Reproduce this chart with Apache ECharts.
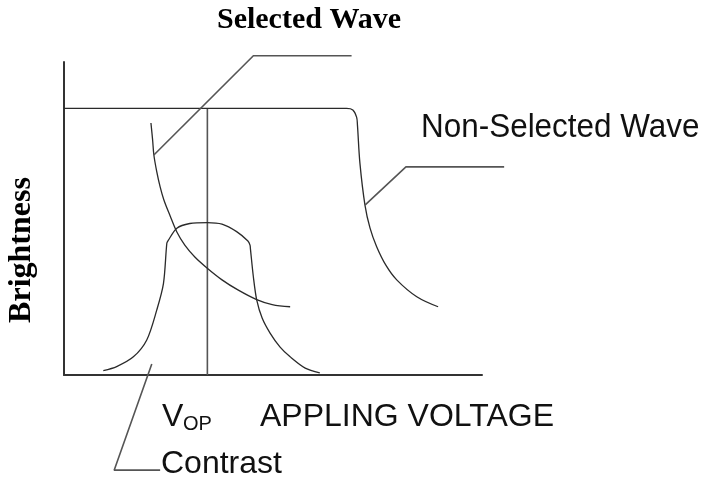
<!DOCTYPE html>
<html>
<head>
<meta charset="utf-8">
<script src="https://cdn.jsdelivr.net/npm/echarts@6/dist/echarts.min.js"></script>
<style>
html,body{margin:0;padding:0;background:#fff;}
#chart{width:705px;height:481px;}
</style>
</head>
<body>
<div id="chart"></div>
<script>
// Axis ranges (arbitrary units: applied voltage vs. brightness)
var xRange = [0, 100];
var yRange = [0, 100];
var xRangeWide = [0, 120]; // same scale, extended to the right for the leader line

// Curves: [voltage, brightness]
var nonSelectedWave = [
  [0,85.2],[67.6,85.2],[69.1,84.7],[70.0,82.4],[70.2,79.9],[70.8,67.6],[72.0,54.3],
  [73.2,47.0],[74.8,41.0],[77.0,35.1],[79.6,30.4],[84.4,25.0],[89.5,21.8]
];
var selectedWave = [
  [20.8,80.5],[21.2,75.1],[21.5,70.3],[22.2,64.9],[23.0,60.1],[23.9,55.9],[25.4,50.8],
  [27.0,45.7],[28.9,41.5],[31.3,37.7],[34.2,34.2],[37.8,30.4],[41.6,27.2],[46.1,24.1],
  [49.8,22.5],[54.1,21.8]
];
var contrastCurve = [
  [9.4,1.4],[12.6,2.7],[16.6,5.8],[19.8,11.2],[22.2,20.8],[23.8,29.3],[24.6,42.1],
  [24.9,42.9],[27.0,46.9],[30.1,48.4],[34.3,48.7],[37.8,48.2],[41.3,45.8],[44.0,42.8],
  [44.5,41.5],[44.6,40.3],[45.3,31.4],[46.1,24.0],[47.4,18.2],[49.3,13.4],[51.7,8.9],
  [54.1,5.8],[57.7,2.2],[61.2,0.7]
];
var vopLine = [[34.3,85.2],[34.3,0]];

// Leader lines to the labels
var selectedLeader = [[21.5,70.3],[45.3,102.0],[68.8,102.0]];
var nonSelectedLeader = [[72.0,54.3],[81.8,66.5],[105.3,66.5]];
var contrastLeader = [[21.0,3.5],[12.0,-30.4],[23.0,-30.4]];

// Texts
var labelSelected = 'Selected Wave';
var labelNonSelected = 'Non-Selected Wave';
var labelYAxis = 'Brightness';
var labelXAxis = 'APPLING VOLTAGE';
var labelV = 'V';
var labelOP = 'OP';
var labelContrast = 'Contrast';

var chart = echarts.init(document.getElementById('chart'), null, {renderer:'canvas'});

function curve(name, data, color, width, smooth, axisIdx) {
  return {
    name: name, type: 'line', data: data, symbol: 'none', smooth: smooth,
    xAxisIndex: axisIdx || 0, yAxisIndex: axisIdx || 0,
    clip: false, silent: true, animation: false,
    lineStyle: {color: color, width: width}
  };
}

var sansFont = '"Liberation Sans", Arial, sans-serif';
var serifFont = '"Liberation Serif", "Times New Roman", serif';

var plotW = 418; // grid width in px for xRange
var wideW = plotW * (xRangeWide[1] - xRangeWide[0]) / (xRange[1] - xRange[0]);

function hiddenAxis(extra) {
  return Object.assign({
    type: 'value', axisLine: {show: false}, axisTick: {show: false},
    axisLabel: {show: false}, splitLine: {show: false}
  }, extra);
}

var option = {
  backgroundColor: '#ffffff',
  animation: false,
  grid: [
    {left: 64, top: 62, width: plotW, height: 313, containLabel: false},
    {left: 64, top: 62, width: wideW, height: 313, containLabel: false}
  ],
  xAxis: [
    {
      type: 'value', min: xRange[0], max: xRange[1], gridIndex: 0,
      axisLine: {show: true, lineStyle: {color: '#333333', width: 2}},
      axisTick: {show: false}, axisLabel: {show: false}, splitLine: {show: false}
    },
    hiddenAxis({min: xRangeWide[0], max: xRangeWide[1], gridIndex: 1})
  ],
  yAxis: [
    {
      type: 'value', min: yRange[0], max: yRange[1], gridIndex: 0,
      axisLine: {show: true, lineStyle: {color: '#333333', width: 2}},
      axisTick: {show: false}, axisLabel: {show: false}, splitLine: {show: false}
    },
    hiddenAxis({min: yRange[0], max: yRange[1], gridIndex: 1})
  ],
  series: [
    curve('Vop', vopLine, '#555555', 1.6, false),
    curve('Non-Selected Wave', nonSelectedWave, '#2a2a2a', 1.3, 0.35),
    curve('Selected Wave', selectedWave, '#2a2a2a', 1.3, 0.35),
    curve('Contrast', contrastCurve, '#2a2a2a', 1.3, 0.3),
    curve('Selected leader', selectedLeader, '#555555', 1.6, false),
    curve('Non-Selected leader', nonSelectedLeader, '#555555', 1.6, false, 1),
    curve('Contrast leader', contrastLeader, '#555555', 1.6, false)
  ],
  graphic: [
    {type:'text', x:309, y:20, style:{text: labelSelected, font:'bold 30px ' + serifFont, fill:'#000', align:'center', verticalAlign:'middle'}},
    {type:'text', x:421, y:128, scaleX: 0.925, style:{text: labelNonSelected, font:'34px ' + sansFont, fill:'#111', align:'left', verticalAlign:'middle'}},
    {type:'text', x:22, y:250, rotation: Math.PI/2, style:{text: labelYAxis, font:'bold 32px ' + serifFont, fill:'#000', align:'center', verticalAlign:'middle'}},
    {type:'text', x:260, y:417, style:{text: labelXAxis, font:'32px ' + sansFont, fill:'#111', align:'left', verticalAlign:'middle'}},
    {type:'text', x:162, y:417, style:{text: labelV, font:'32px ' + sansFont, fill:'#111', align:'left', verticalAlign:'middle'}},
    {type:'text', x:183, y:424, style:{text: labelOP, font:'20px ' + sansFont, fill:'#111', align:'left', verticalAlign:'middle'}},
    {type:'text', x:161, y:464, style:{text: labelContrast, font:'32px ' + sansFont, fill:'#111', align:'left', verticalAlign:'middle'}}
  ]
};
chart.setOption(option);
</script>
</body>
</html>
